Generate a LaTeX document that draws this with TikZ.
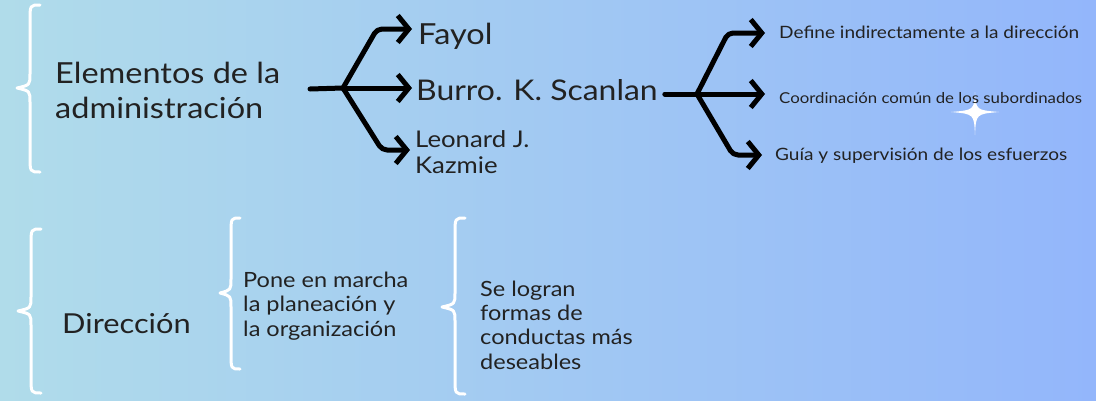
\documentclass[tikz,border=0pt]{standalone}
\usepackage{fontspec}
\setmainfont{Lato}[FakeStretch=1.12]
\usetikzlibrary{arrows.meta,calc}
\definecolor{bgl}{HTML}{B0DCEA}
\definecolor{bgr}{HTML}{93B6FB}
\definecolor{ink}{HTML}{222222}
\newcommand\mybrace[6]{%
 \draw[brace] (#1,#2) .. controls (#3,#2) .. (#3,#2+16) -- (#3,#5-14) .. controls (#3,#5-3) .. (#4,#5) .. controls (#3,#5+3) .. (#3,#5+14) -- (#3,#6-16) .. controls (#3,#6) .. (#1,#6);}
\begin{document}
\begin{tikzpicture}[x=1pt,y=-1pt,
 txt/.style={inner sep=0pt,anchor=base west,text=ink,align=left},
 hand/.style={line width=5pt,line cap=round,line join=round,black},
 tipped/.style={-{Straight Barb[length=11pt,width=27pt]}},
 brace/.style={white,line width=3pt,line cap=round,line join=round}]
\useasboundingbox (0,0) rectangle (1096,400);
\shade[left color=bgl,right color=bgr] (0,0) rectangle (1096,400);
% braces
\mybrace{40}{5}{30}{17}{88}{172}
\mybrace{41}{229}{31}{18}{311}{393}
\mybrace{240}{218}{231}{220}{293}{369}
\mybrace{465}{218}{455}{442}{307}{394}
% star
\fill[white] (975,92) .. controls (976,110) .. (999,112) .. controls (976,114) .. (975,135) .. controls (974,114) .. (951,112) .. controls (974,110) .. cycle;
% texts (base = last line)
\node[txt,font=\fontsize{29}{35}\selectfont] (elem) at (55,118) {Elementos de la\\administración};
\node[txt,font=\fontsize{29}{35}\selectfont] (fayol) at (418,44) {Fayol};
\node[txt,font=\fontsize{28.5}{35}\selectfont] (burro) at (416,100) {Burro. K. Scanlan};
\node[txt,font=\fontsize{23}{26}\selectfont] (leo) at (415,173) {Leonard J.\\Kazmie};
\node[txt,font=\fontsize{17}{20}\selectfont] (def) at (779,38) {Define indirectamente a la dirección};
\node[txt,font=\fontsize{15}{20}\selectfont] (coord) at (779,103) {Coordinación común de los subordinados};
\node[txt,font=\fontsize{17}{20}\selectfont] (guia) at (775,160) {Guía y supervisión de los esfuerzos};
\node[txt,font=\fontsize{27.5}{35}\selectfont] (dir) at (62,333) {Dirección};
\node[txt,font=\fontsize{21}{24.5}\selectfont] (pone) at (243,336) {Pone en marcha\\la planeación y\\la organización};
\node[txt,font=\fontsize{21}{24.3}\selectfont] (se) at (480,369) {Se logran\\formas de\\conductas más\\deseables};
% fork 1
\coordinate (s1) at (310,89);
\coordinate (f1) at (343,88);
\coordinate (c1u) at (377,29);
\coordinate (c1d) at (382,150);
\draw[hand] (s1) -- (f1);
\draw[hand,tipped,rounded corners=5pt] (f1) -- (c1u) -- ([xshift=-6pt]c1u -| fayol.west);
\draw[hand,tipped] (f1) -- ([xshift=-4pt]f1 -| burro.west);
\draw[hand,tipped,rounded corners=5pt] (f1) -- (c1d) -- ([xshift=-5pt]c1d -| leo.west);
% fork 2
\coordinate (f2) at (697,94);
\coordinate (c2u) at (728,33);
\coordinate (c2d) at (733,155);
\draw[hand] ([xshift=7pt]burro.east |- f2) -- (f2);
\draw[hand,tipped,rounded corners=5pt] (f2) -- (c2u) -- ([xshift=-14pt]c2u -| def.west);
\draw[hand,tipped] (f2) -- ([xshift=-14pt]f2 -| coord.west);
\draw[hand,tipped,rounded corners=5pt] (f2) -- (c2d) -- ([xshift=-13pt]c2d -| guia.west);
\end{tikzpicture}
\end{document}
